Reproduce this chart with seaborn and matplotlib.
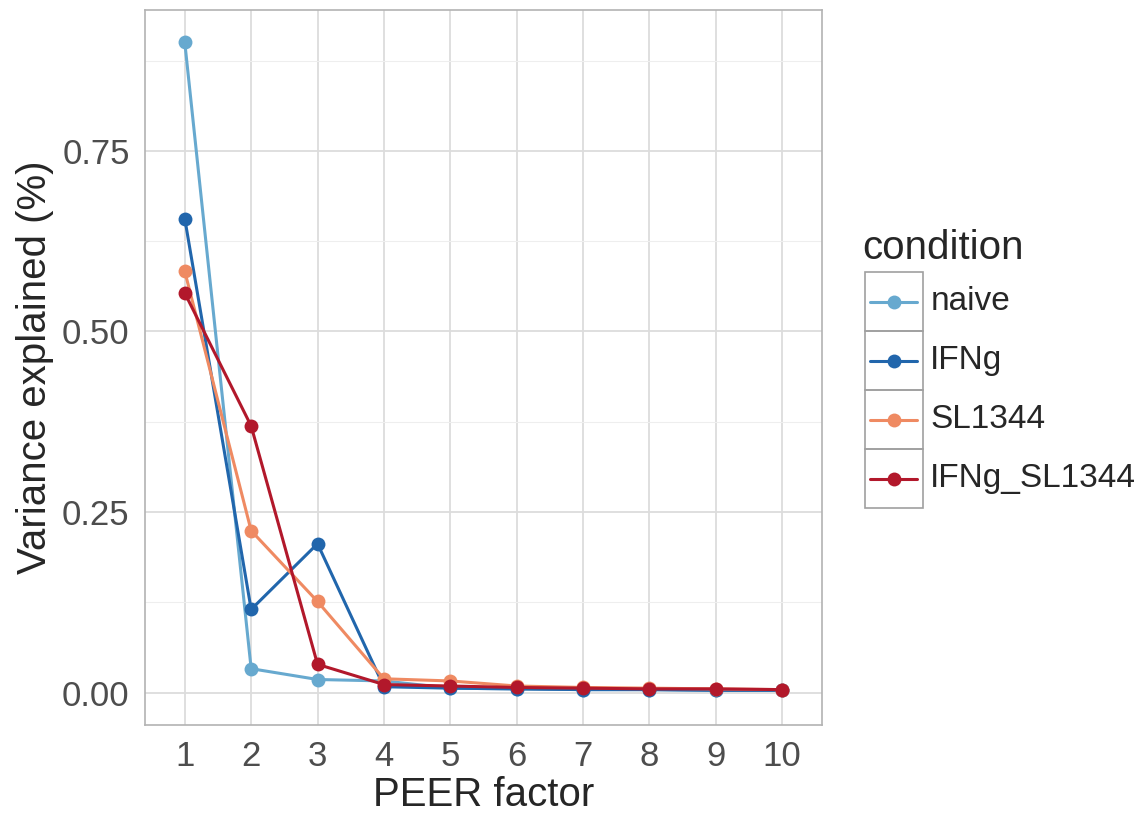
import matplotlib
matplotlib.use("Agg")
import matplotlib.pyplot as plt
from matplotlib.patches import Rectangle
from matplotlib.lines import Line2D
import seaborn as sns
import pandas as pd

# values
factors = [1, 2, 3, 4, 5, 6, 7, 8, 9, 10]
conditions = ["naive", "IFNg", "SL1344", "IFNg_SL1344"]
naive = [0.900, 0.033, 0.018, 0.016, 0.006, 0.005, 0.004, 0.004, 0.003, 0.003]
ifng = [0.656, 0.115, 0.206, 0.008, 0.006, 0.005, 0.004, 0.004, 0.003, 0.003]
sl1344 = [0.583, 0.224, 0.126, 0.019, 0.016, 0.009, 0.007, 0.006, 0.005, 0.004]
ifng_sl1344 = [0.553, 0.369, 0.039, 0.011, 0.009, 0.007, 0.006, 0.005, 0.005, 0.004]
colors = ["#67a9cf", "#2166ac", "#ef8a62", "#b2182b"]

df = pd.DataFrame({
    "factor": factors * 4,
    "condition": [c for c in conditions for _ in factors],
    "variance": naive + ifng + sl1344 + ifng_sl1344,
})

sns.set_style("white")
plt.rcParams["font.family"] = ["Liberation Sans", "DejaVu Sans"]

fig = plt.figure(figsize=(11.45, 8.17), dpi=100)
ax = fig.add_axes([0.1266, 0.1126, 0.5913, 0.8752])

sns.lineplot(data=df, x="factor", y="variance", hue="condition",
             hue_order=conditions, palette=colors, marker="o",
             markersize=10, markeredgewidth=0, linewidth=2.2,
             legend=False, ax=ax)

ax.set_xlim(0.4, 10.6)
ax.set_ylim(-0.045, 0.945)
ax.set_xticks(factors)
ax.set_yticks([0, 0.25, 0.5, 0.75])
ax.set_yticks([0.125, 0.375, 0.625, 0.875], minor=True)
ax.set_yticklabels(["0.00", "0.25", "0.50", "0.75"])
ax.grid(True, which="major", color="#dcdcdc", linewidth=1.3)
ax.grid(True, which="minor", axis="y", color="#eeeeee", linewidth=0.8)
ax.set_axisbelow(True)
for s in ax.spines.values():
    s.set_color("#b3b3b3")
    s.set_linewidth(1.2)
ax.tick_params(axis="both", which="major", length=6, color="#b3b3b3",
               labelsize=25, labelcolor="#4d4d4d", width=1.2, pad=5)
ax.tick_params(axis="y", which="minor", length=0)
ax.set_xlabel("PEER factor", fontsize=29, labelpad=2)
ax.set_ylabel("Variance explained (%)", fontsize=29, labelpad=6)

# legend with ggplot-like key boxes
fig.text(0.753, 0.697, "condition", fontsize=29, va="center", ha="left")
key_h = 0.0722
top = 0.667
for i, (c, col) in enumerate(zip(conditions, colors)):
    y0 = top - (i + 1) * key_h
    fig.patches.append(Rectangle((0.7555, y0), 0.0502, key_h,
                                 transform=fig.transFigure, fill=False,
                                 edgecolor="#a0a0a0", linewidth=1.2))
    yc = y0 + key_h / 2
    fig.lines.append(Line2D([0.760, 0.801], [yc, yc], transform=fig.transFigure,
                            color=col, linewidth=2.2, marker=None))
    fig.lines.append(Line2D([0.7805], [yc], transform=fig.transFigure,
                            color=col, marker="o", markersize=10,
                            markeredgewidth=0))
    fig.text(0.8125, yc, c, fontsize=24, va="center", ha="left")

fig.savefig("out.png", dpi=100)
